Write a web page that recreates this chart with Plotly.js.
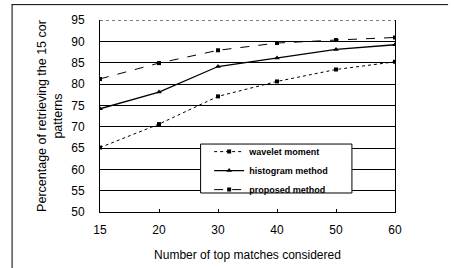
<!DOCTYPE html>
<html><head><meta charset="utf-8">
<script src="https://cdn.plot.ly/plotly-3.0.1.min.js"></script>
<style>html,body{margin:0;padding:0;background:#fff}#chart{width:454px;height:268px}</style>
</head><body><div id="chart"></div>
<script>
var categories = ['15','20','30','40','50','60'];
var waveletMoment = [65.1, 70.6, 77.1, 80.6, 83.4, 85.2];
var histogramMethod = [74.2, 78.1, 84.1, 86.1, 88.1, 89.2];
var proposedMethod = [81.2, 84.9, 87.9, 89.6, 90.3, 90.9];
var yTicks = [50,55,60,65,70,75,80,85,90,95];

var font = 'Liberation Sans, Arial, sans-serif';
var traces = [
  {x: categories, y: waveletMoment, name: 'wavelet moment', mode: 'lines+markers',
   line: {color: '#000', width: 1, dash: 'dot'}, marker: {symbol: 'square', size: 4, color: '#000'}},
  {x: categories, y: histogramMethod, name: 'histogram method', mode: 'lines+markers',
   line: {color: '#000', width: 1.3}, marker: {symbol: 'triangle-up', size: 5, color: '#000'}},
  {x: categories, y: proposedMethod, name: 'proposed method', mode: 'lines+markers',
   line: {color: '#000', width: 1, dash: 'dash'}, marker: {symbol: 'square', size: 4, color: '#000'}}
];
var layout = {
  width: 454, height: 268,
  margin: {l: 100, r: 59, t: 20, b: 56},
  paper_bgcolor: '#fff', plot_bgcolor: '#fff',
  font: {family: font, color: '#000', size: 12},
  showlegend: true,
  legend: {x: 0.37, y: 0.39, xanchor: 'left', yanchor: 'top',
    borderwidth: 0, bgcolor: 'rgba(0,0,0,0)',
    font: {size: 9, family: font, weight: 'bold'}, traceorder: 'normal', itemwidth: 30},
  xaxis: {type: 'category', categoryorder: 'array', categoryarray: categories,
    range: [0, 5], showgrid: false, zeroline: false,
    showline: true, linecolor: '#000', linewidth: 1,
    ticks: 'inside', ticklen: 3, tickcolor: '#000',
    tickfont: {size: 12, family: font}, ticklabelstandoff: 7,
    title: {text: 'Number of top matches considered', font: {size: 12, family: font}, standoff: 14}},
  yaxis: {range: [50, 95], tickvals: yTicks, ticktext: yTicks.map(String),
    showgrid: true, gridcolor: '#000', gridwidth: 1, zeroline: false,
    showline: true, mirror: true, linecolor: '#000', linewidth: 1,
    ticks: '', tickfont: {size: 12, family: font}, ticklabelstandoff: 12,
    title: {text: 'Percentage of retrieving the 15 cor<br>patterns', font: {size: 12.5, family: font}, standoff: 5}},
  shapes: [
    {type: 'line', xref: 'paper', yref: 'y', x0: 0, x1: 1, y0: 95, y1: 95, line: {color: '#fff', width: 2}, layer: 'above'},
    {type: 'line', xref: 'paper', yref: 'y', x0: 0, x1: 1, y0: 95, y1: 95, line: {color: '#000', width: 1, dash: 'dot'}, layer: 'above'},
    {type: 'rect', xref: 'paper', yref: 'paper', x0: 0.341, x1: 0.854, y0: 0.099, y1: 0.354,
     fillcolor: '#fff', line: {color: '#000', width: 1}, layer: 'above'},
    {type: 'line', xref: 'paper', yref: 'paper', x0: -0.3, x1: 1.18, y0: 1.08, y1: 1.08, line: {color: '#000', width: 1}},
    {type: 'line', xref: 'paper', yref: 'paper', x0: -0.298, x1: -0.298, y0: 1.08, y1: -0.3, line: {color: '#000', width: 1}}
  ]
};
Plotly.newPlot('chart', traces, layout, {staticPlot: true, displayModeBar: false});
</script></body></html>
